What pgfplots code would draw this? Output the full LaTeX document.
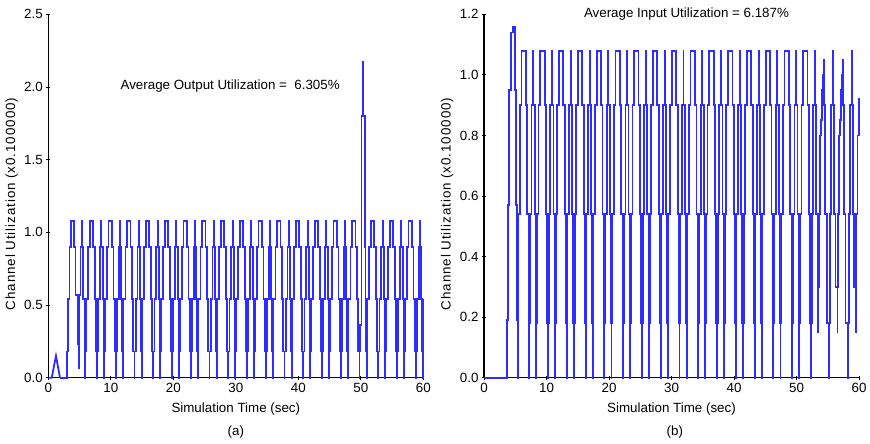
\documentclass[border=0pt]{standalone}
\usepackage{pgfplots}
\pgfplotsset{compat=1.18}
\usepackage{fontspec}
\setmainfont{Liberation Sans}
\definecolor{sig}{RGB}{45,45,255}

\pgfplotsset{
  chan/.style={
    scale only axis, width=375bp, height=363.4bp,
    axis x line=bottom, axis y line=left,
    axis line style={-, line width=1.1bp, black},
    xmin=0, xmax=60, xtick={0,10,...,60}, ymin=0,
    tick align=center, major tick length=4bp,
    tick style={black, line width=0.8bp},
    /pgf/number format/assume math mode=true,
    yticklabel style={/pgf/number format/fixed, /pgf/number format/fixed zerofill, /pgf/number format/precision=1},
    xlabel={Simulation Time (sec)},
    ylabel={\addfontfeatures{LetterSpace=7}Channel Utilization (x0.100000)},
    xlabel style={at={(axis description cs:0.5,-0.086)}, anchor=center},
    ylabel style={at={(axis description cs:-0.098,0.478)}, anchor=center},
    clip=false,
  },
  trace/.style={color=sig, line width=1.8bp, const plot mark left},
}

\begin{document}
\begin{tikzpicture}[font=\fontsize{13.4}{15}\selectfont]
\useasboundingbox (0,0) rectangle (870bp,444bp);

% (a) output
\begin{axis}[chan, at={(48.3bp,66.3bp)}, anchor=south west,
  ymax=2.5, ytick={0,0.5,...,2.5}]
\addplot[color=sig, line width=1.8bp] coordinates {(0,0)(0.55,0)(1.23,0.15)(1.87,0)};
\addplot[trace] table {
x y
1.87 0
3.00 0.18
3.20 0.54
3.40 0.9
3.63 1.08
4.16 0.9
4.35 0.57
4.72 0.23
4.86 0.065
4.89 0.23
4.95 0.57
5.15 0.9
5.40 1.08
5.42 0.9
5.60 0.54
5.78 0.18
5.93 0
5.95 0.18
6.04 0.54
6.36 0.9
6.63 1.08
7.16 0.9
7.43 0.54
7.61 0.18
7.78 0
7.80 0.18
7.98 0.54
8.26 0.9
8.47 1.08
8.49 0.9
8.69 0.54
8.85 0.18
8.93 0
8.95 0.18
9.04 0.54
9.36 0.9
9.63 1.08
10.16 0.9
10.43 0.54
10.61 0.18
10.78 0
10.80 0.18
10.98 0.54
11.26 0.9
11.47 1.08
11.49 0.9
11.69 0.54
11.85 0.18
11.93 0
11.95 0.18
12.04 0.54
12.36 0.9
12.63 1.08
13.16 0.9
13.43 0.54
13.61 0.18
13.78 0
13.80 0.18
13.98 0.54
14.26 0.9
14.47 1.08
14.49 0.9
14.69 0.54
14.85 0.18
14.93 0
14.95 0.18
15.04 0.54
15.36 0.9
15.63 1.08
16.16 0.9
16.43 0.54
16.61 0.18
16.78 0
16.80 0.18
16.98 0.54
17.26 0.9
17.47 1.08
17.49 0.9
17.69 0.54
17.85 0.18
17.93 0
17.95 0.18
18.04 0.54
18.36 0.9
18.63 1.08
19.16 0.9
19.43 0.54
19.61 0.18
19.78 0
19.80 0.18
19.98 0.54
20.26 0.9
20.47 1.08
20.49 0.9
20.69 0.54
20.85 0.18
20.93 0
20.95 0.18
21.04 0.54
21.36 0.9
21.63 1.08
22.16 0.9
22.43 0.54
22.61 0.18
22.78 0
22.80 0.18
22.98 0.54
23.26 0.9
23.47 1.08
23.49 0.9
23.69 0.54
23.85 0.18
23.93 0
23.95 0.18
24.04 0.54
24.36 0.9
24.63 1.08
25.16 0.9
25.43 0.54
25.61 0.18
25.78 0
25.80 0.18
25.98 0.54
26.26 0.9
26.47 1.08
26.49 0.9
26.69 0.54
26.85 0.18
26.93 0
26.95 0.18
27.04 0.54
27.36 0.9
27.63 1.08
28.16 0.9
28.43 0.54
28.61 0.18
28.78 0
28.80 0.18
28.98 0.54
29.26 0.9
29.47 1.08
29.49 0.9
29.69 0.54
29.85 0.18
29.93 0
29.95 0.18
30.04 0.54
30.36 0.9
30.63 1.08
31.16 0.9
31.43 0.54
31.61 0.18
31.78 0
31.80 0.18
31.98 0.54
32.26 0.9
32.47 1.08
32.49 0.9
32.69 0.54
32.85 0.18
32.93 0
32.95 0.18
33.04 0.54
33.36 0.9
33.63 1.08
34.16 0.9
34.43 0.54
34.61 0.18
34.78 0
34.80 0.18
34.98 0.54
35.26 0.9
35.47 1.08
35.49 0.9
35.69 0.54
35.85 0.18
35.93 0
35.95 0.18
36.04 0.54
36.36 0.9
36.63 1.08
37.16 0.9
37.43 0.54
37.61 0.18
37.78 0
37.80 0.18
37.98 0.54
38.26 0.9
38.47 1.08
38.49 0.9
38.69 0.54
38.85 0.18
38.93 0
38.95 0.18
39.04 0.54
39.36 0.9
39.63 1.08
40.16 0.9
40.43 0.54
40.61 0.18
40.78 0
40.80 0.18
40.98 0.54
41.26 0.9
41.47 1.08
41.49 0.9
41.69 0.54
41.85 0.18
41.93 0
41.95 0.18
42.04 0.54
42.36 0.9
42.63 1.08
43.16 0.9
43.43 0.54
43.61 0.18
43.78 0
43.80 0.18
43.98 0.54
44.26 0.9
44.47 1.08
44.49 0.9
44.69 0.54
44.85 0.18
44.93 0
44.95 0.18
45.04 0.54
45.36 0.9
45.63 1.08
46.16 0.9
46.43 0.54
46.61 0.18
46.78 0
46.80 0.18
46.98 0.54
47.26 0.9
47.47 1.08
47.49 0.9
47.69 0.54
47.85 0.18
47.93 0
47.95 0.18
48.04 0.54
48.36 0.9
48.63 1.08
49.16 0.9
49.43 0.54
49.61 0.18
49.78 0
49.80 0.18
49.85 0.36
50.12 1.8
50.40 2.17
50.42 1.8
50.67 1.08
50.70 0.9
50.75 0.36
50.85 0.18
50.93 0
50.95 0.18
51.04 0.54
51.36 0.9
51.63 1.08
52.16 0.9
52.43 0.54
52.61 0.18
52.78 0
52.80 0.18
52.98 0.54
53.26 0.9
53.47 1.08
53.49 0.9
53.69 0.54
53.85 0.18
53.93 0
53.95 0.18
54.04 0.54
54.36 0.9
54.63 1.08
55.16 0.9
55.43 0.54
55.61 0.18
55.78 0
55.80 0.18
55.98 0.54
56.26 0.9
56.47 1.08
56.49 0.9
56.69 0.54
56.85 0.18
56.93 0
56.95 0.18
57.04 0.54
57.36 0.9
57.63 1.08
58.16 0.9
58.43 0.54
58.61 0.18
58.78 0
58.80 0.18
58.98 0.54
59.26 0.9
59.47 1.08
59.49 0.9
59.69 0.54
59.85 0.18
59.93 0
59.95 0.18
60.00 0.54
};
\node at (axis cs:29.1,2.007) {Average Output Utilization =\ \ 6.305\%};
\node at (axis description cs:0.5,-0.149) {(a)};
\end{axis}

% (b) input
\begin{axis}[chan, at={(484bp,66.3bp)}, anchor=south west,
  ymax=1.2, ytick={0,0.2,...,1.2}]
\addplot[trace] table {
x y
0.00 0
3.63 0.19
3.82 0.57
4.05 0.95
4.27 1.14
4.69 1.16
4.96 0.95
5.15 0.57
5.30 0.19
5.36 0
5.38 0.18
5.48 0.54
5.72 0.9
6.00 1.08
6.69 0.9
6.94 0.54
7.13 0.18
7.23 0
7.25 0.18
7.35 0.54
7.61 0.9
7.87 1.08
7.89 0.9
8.10 0.54
8.28 0.18
8.37 0
8.39 0.18
8.49 0.54
8.73 0.9
9.01 1.08
9.70 0.9
9.95 0.54
10.14 0.18
10.24 0
10.26 0.18
10.36 0.54
10.62 0.9
10.88 1.08
10.90 0.9
11.11 0.54
11.29 0.18
11.37 0
11.39 0.18
11.49 0.54
11.73 0.9
12.01 1.08
12.70 0.9
12.95 0.54
13.14 0.18
13.24 0
13.26 0.18
13.36 0.54
13.62 0.9
13.88 1.08
13.90 0.9
14.11 0.54
14.29 0.18
14.38 0
14.40 0.18
14.50 0.54
14.74 0.9
15.02 1.08
15.71 0.9
15.96 0.54
16.15 0.18
16.25 0
16.27 0.18
16.37 0.54
16.63 0.9
16.89 1.08
16.91 0.9
17.12 0.54
17.30 0.18
17.38 0
17.40 0.18
17.50 0.54
17.74 0.9
18.02 1.08
18.71 0.9
18.96 0.54
19.15 0.18
19.25 0
19.27 0.18
19.37 0.54
19.63 0.9
19.89 1.08
19.91 0.9
20.12 0.54
20.30 0.18
20.39 0
20.41 0.18
20.51 0.54
20.75 0.9
21.03 1.08
21.72 0.9
21.97 0.54
22.16 0.18
22.26 0
22.28 0.18
22.38 0.54
22.64 0.9
22.90 1.08
22.92 0.9
23.13 0.54
23.31 0.18
23.39 0
23.41 0.18
23.51 0.54
23.75 0.9
24.03 1.08
24.72 0.9
24.97 0.54
25.16 0.18
25.26 0
25.28 0.18
25.38 0.54
25.64 0.9
25.90 1.08
25.92 0.9
26.13 0.54
26.31 0.18
26.40 0
26.42 0.18
26.52 0.54
26.76 0.9
27.04 1.08
27.73 0.9
27.98 0.54
28.17 0.18
28.27 0
28.29 0.18
28.39 0.54
28.65 0.9
28.91 1.08
28.93 0.9
29.14 0.54
29.32 0.18
29.40 0
29.42 0.18
29.52 0.54
29.76 0.9
30.04 1.08
30.73 0.9
30.98 0.54
31.17 0.18
31.27 0
31.29 0.18
31.39 0.54
31.65 0.9
31.91 1.08
31.93 0.9
32.14 0.54
32.32 0.18
32.41 0
32.43 0.18
32.53 0.54
32.77 0.9
33.05 1.08
33.74 0.9
33.99 0.54
34.18 0.18
34.28 0
34.30 0.18
34.40 0.54
34.66 0.9
34.92 1.08
34.94 0.9
35.15 0.54
35.33 0.18
35.41 0
35.43 0.18
35.53 0.54
35.77 0.9
36.05 1.08
36.74 0.9
36.99 0.54
37.18 0.18
37.28 0
37.30 0.18
37.40 0.54
37.66 0.9
37.92 1.08
37.94 0.9
38.15 0.54
38.33 0.18
38.42 0
38.44 0.18
38.54 0.54
38.78 0.9
39.06 1.08
39.75 0.9
40.00 0.54
40.19 0.18
40.29 0
40.31 0.18
40.41 0.54
40.67 0.9
40.93 1.08
40.95 0.9
41.16 0.54
41.34 0.18
41.42 0
41.44 0.18
41.54 0.54
41.78 0.9
42.06 1.08
42.75 0.9
43.00 0.54
43.19 0.18
43.29 0
43.31 0.18
43.41 0.54
43.67 0.9
43.93 1.08
43.95 0.9
44.16 0.54
44.34 0.18
44.43 0
44.45 0.18
44.55 0.54
44.79 0.9
45.07 1.08
45.76 0.9
46.01 0.54
46.20 0.18
46.30 0
46.32 0.18
46.42 0.54
46.68 0.9
46.94 1.08
46.96 0.9
47.17 0.54
47.35 0.18
47.43 0
47.45 0.18
47.55 0.54
47.79 0.9
48.07 1.08
48.76 0.9
49.01 0.54
49.20 0.18
49.30 0
49.32 0.18
49.42 0.54
49.68 0.9
49.94 1.08
49.96 0.9
50.17 0.54
50.35 0.18
50.44 0
50.46 0.18
50.56 0.54
50.80 0.9
51.08 1.08
51.77 0.9
52.02 0.54
52.21 0.18
52.31 0
52.33 0.18
52.43 0.54
52.69 0.9
52.95 1.08
52.97 0.9
53.15 0.54
53.35 0.3
53.50 0.15
53.52 0.3
53.60 0.54
53.80 0.8
53.90 0.85
54.05 0.95
54.20 1.0
54.35 1.05
54.45 0.9
54.62 0.54
54.85 0.18
55.25 0
55.27 0.18
55.37 0.54
55.55 0.9
55.80 1.08
55.82 0.9
56.00 0.54
56.25 0.3
56.55 0.15
56.57 0.3
56.65 0.54
56.85 0.8
56.95 0.85
57.10 0.95
57.25 1.0
57.40 1.05
57.50 0.9
57.65 0.54
57.85 0.18
58.30 0
58.32 0.18
58.42 0.54
58.60 0.9
58.83 1.08
58.85 0.9
59.05 0.54
59.25 0.3
59.45 0.15
59.47 0.3
59.55 0.54
59.75 0.8
59.95 0.92
60.00 0.92
};
\node at (axis cs:32.4,1.201) {Average Input Utilization = 6.187\%};
\node at (axis description cs:0.509,-0.149) {(b)};
\end{axis}
\end{tikzpicture}
\end{document}
